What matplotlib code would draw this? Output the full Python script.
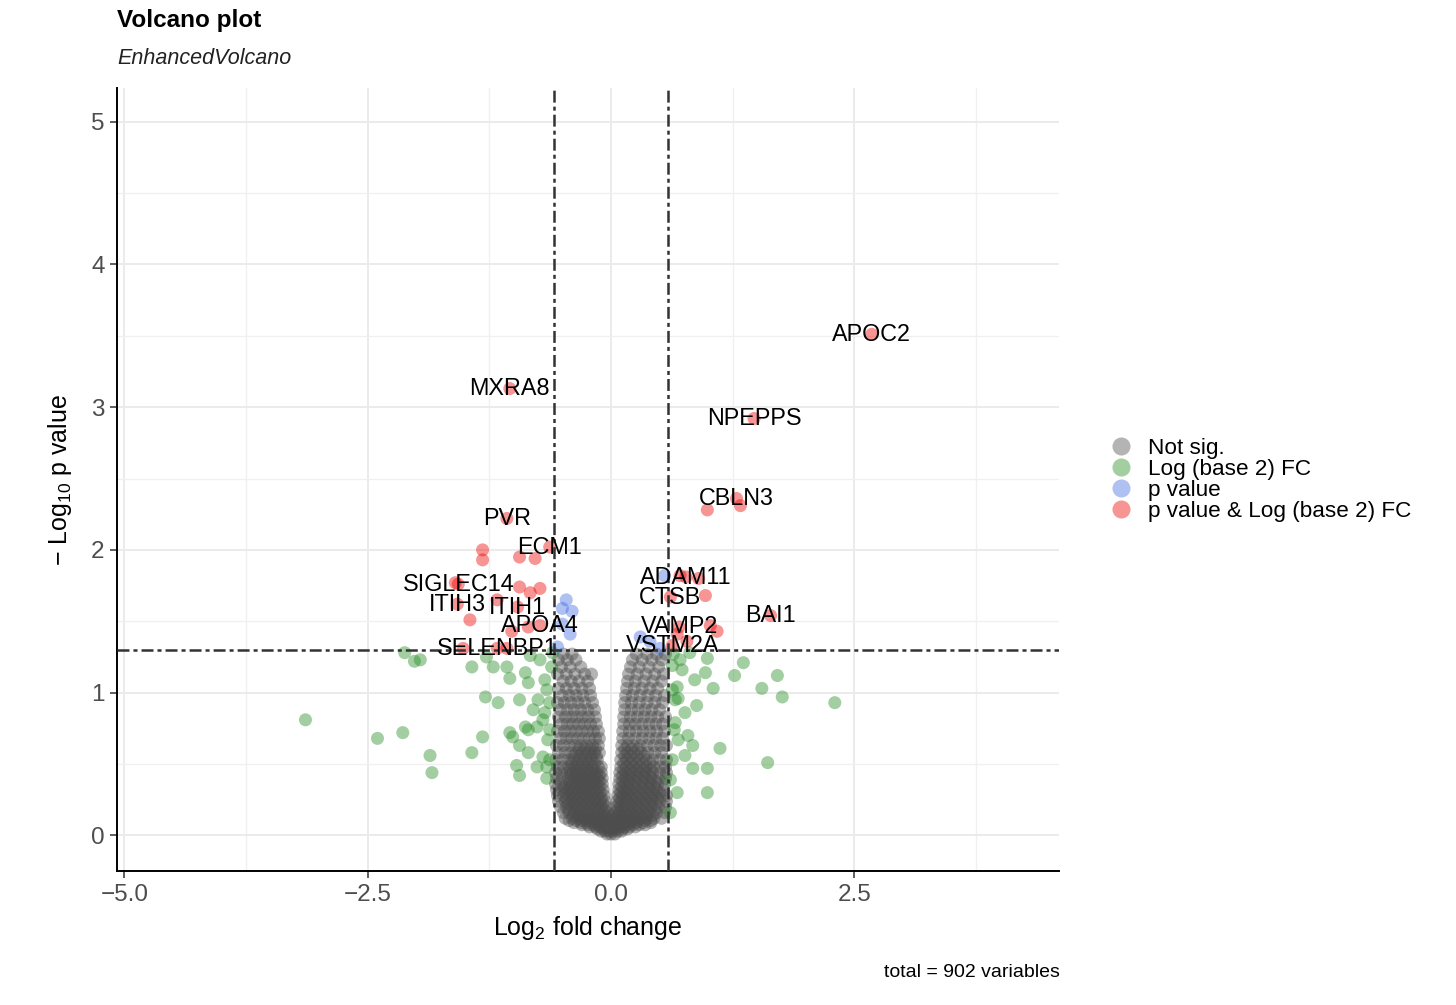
import matplotlib
matplotlib.use("Agg")
import matplotlib.pyplot as plt
from matplotlib.lines import Line2D
from matplotlib.ticker import MultipleLocator

plt.rcParams['font.family'] = ['Liberation Sans', 'DejaVu Sans']
plt.rcParams['mathtext.fontset'] = 'custom'
plt.rcParams['mathtext.rm'] = 'Liberation Sans'
plt.rcParams['mathtext.default'] = 'regular'
plt.rcParams['lines.scale_dashes'] = False

# ---------------- data ----------------
# Not significant (grey) points, typed row by row (y level, x values)
grey_row_y = [0.01, 0.03, 0.06, 0.09, 0.12, 0.16, 0.20, 0.24, 0.28, 0.32,
              0.36, 0.40, 0.44, 0.48, 0.53, 0.58, 0.63, 0.68, 0.73, 0.78,
              0.83, 0.88, 0.93, 0.98, 1.03, 1.08, 1.13, 1.18, 1.23, 1.27]
grey_row_x = [
    [-0.04, 0.0, 0.04],
    [-0.10, -0.06, -0.02, 0.02, 0.07, 0.11],
    [-0.22, -0.16, -0.11, -0.06, -0.01, 0.04, 0.09, 0.14, 0.19, 0.25],
    [-0.38, -0.31, -0.25, -0.19, -0.13, -0.08, -0.03, 0.03, 0.08, 0.14, 0.20, 0.26, 0.33, 0.41],
    [-0.47, -0.40, -0.34, -0.28, -0.22, -0.16, -0.11, -0.05, 0.01, 0.06, 0.12, 0.18, 0.24, 0.31, 0.37, 0.44, 0.52],
    [-0.49, -0.43, -0.37, -0.31, -0.25, -0.19, -0.13, -0.08, -0.03, 0.04, 0.09, 0.15, 0.21, 0.27, 0.33, 0.40, 0.47, 0.55],
    [-0.52, -0.46, -0.40, -0.34, -0.28, -0.22, -0.16, -0.10, -0.05, 0.05, 0.10, 0.16, 0.22, 0.28, 0.35, 0.42, 0.49, 0.56],
    [-0.54, -0.47, -0.41, -0.35, -0.29, -0.23, -0.17, -0.11, -0.06, 0.06, 0.11, 0.17, 0.23, 0.30, 0.36, 0.43, 0.50, 0.57],
    [-0.55, -0.49, -0.43, -0.37, -0.31, -0.25, -0.19, -0.13, -0.07, 0.07, 0.12, 0.18, 0.24, 0.31, 0.38, 0.45, 0.52, 0.57],
    [-0.56, -0.50, -0.44, -0.38, -0.32, -0.26, -0.20, -0.14, -0.08, 0.08, 0.13, 0.19, 0.26, 0.33, 0.40, 0.47, 0.54],
    [-0.57, -0.51, -0.45, -0.39, -0.33, -0.27, -0.21, -0.15, -0.09, 0.08, 0.14, 0.20, 0.27, 0.34, 0.41, 0.48, 0.55],
    [-0.56, -0.50, -0.44, -0.38, -0.32, -0.26, -0.20, -0.14, -0.09, 0.09, 0.15, 0.21, 0.28, 0.35, 0.42, 0.49, 0.56],
    [-0.57, -0.51, -0.45, -0.39, -0.33, -0.27, -0.21, -0.15, -0.10, 0.09, 0.15, 0.22, 0.29, 0.36, 0.43, 0.50, 0.57],
    [-0.55, -0.49, -0.43, -0.37, -0.31, -0.25, -0.19, -0.13, -0.10, 0.10, 0.16, 0.23, 0.30, 0.37, 0.44, 0.51, 0.56],
    [-0.57, -0.50, -0.44, -0.38, -0.32, -0.26, -0.20, -0.14, 0.10, 0.16, 0.22, 0.29, 0.36, 0.43, 0.50, 0.57],
    [-0.54, -0.47, -0.41, -0.35, -0.29, -0.23, -0.17, -0.12, 0.11, 0.17, 0.24, 0.31, 0.38, 0.45, 0.52],
    [-0.56, -0.49, -0.43, -0.37, -0.31, -0.25, -0.19, -0.13, 0.11, 0.17, 0.23, 0.30, 0.37, 0.44, 0.51, 0.57],
    [-0.52, -0.46, -0.40, -0.34, -0.28, -0.22, -0.16, -0.12, 0.12, 0.18, 0.25, 0.32, 0.39, 0.46, 0.53],
    [-0.55, -0.48, -0.42, -0.36, -0.30, -0.24, -0.18, -0.13, 0.12, 0.19, 0.26, 0.33, 0.40, 0.47, 0.55],
    [-0.51, -0.45, -0.39, -0.33, -0.27, -0.21, -0.15, 0.13, 0.19, 0.25, 0.32, 0.39, 0.46, 0.53],
    [-0.54, -0.47, -0.41, -0.35, -0.29, -0.23, -0.16, 0.13, 0.20, 0.27, 0.34, 0.41, 0.48, 0.56],
    [-0.52, -0.45, -0.38, -0.31, -0.24, -0.17, 0.14, 0.21, 0.28, 0.35, 0.42, 0.50],
    [-0.55, -0.48, -0.41, -0.34, -0.27, -0.19, 0.14, 0.21, 0.29, 0.37, 0.45, 0.53],
    [-0.50, -0.43, -0.36, -0.29, -0.21, 0.15, 0.22, 0.30, 0.38, 0.46, 0.55],
    [-0.54, -0.46, -0.38, -0.30, -0.22, 0.16, 0.24, 0.32, 0.40, 0.48],
    [-0.49, -0.41, -0.33, -0.24, 0.17, 0.25, 0.34, 0.43, 0.52],
    [-0.55, -0.46, -0.37, -0.27, -0.20, 0.18, 0.27, 0.36, 0.45, 0.54],
    [-0.51, -0.42, -0.31, 0.20, 0.29, 0.39, 0.49],
    [-0.54, -0.45, -0.36, 0.22, 0.32, 0.42, 0.52],
    [-0.49, -0.40, 0.26, 0.37, 0.47, 0.56],
]
# second, interleaved set of grey rows (the dense lower part of the V)
grey_row_y2 = [0.045, 0.075, 0.105, 0.14, 0.18, 0.22, 0.26, 0.30, 0.34, 0.38,
               0.42, 0.46, 0.505, 0.555, 0.605]
grey_row_x2 = [
    [-0.14, -0.08, -0.03, 0.02, 0.06, 0.12, 0.17],
    [-0.30, -0.24, -0.18, -0.13, -0.08, -0.03, 0.02, 0.07, 0.12, 0.17, 0.23, 0.29, 0.35],
    [-0.43, -0.36, -0.30, -0.24, -0.18, -0.13, -0.08, -0.02, 0.04, 0.10, 0.16, 0.22, 0.28, 0.35, 0.41],
    [-0.39, -0.33, -0.27, -0.21, -0.15, -0.10, -0.05, 0.02, 0.07, 0.12, 0.18, 0.24, 0.30, 0.36, 0.43],
    [-0.44, -0.37, -0.31, -0.25, -0.19, -0.13, -0.07, 0.07, 0.13, 0.19, 0.25, 0.31, 0.38, 0.45],
    [-0.44, -0.38, -0.32, -0.26, -0.20, -0.14, -0.08, 0.08, 0.14, 0.20, 0.26, 0.33, 0.39, 0.46],
    [-0.46, -0.40, -0.34, -0.28, -0.22, -0.16, -0.10, 0.09, 0.15, 0.21, 0.27, 0.34, 0.41, 0.48],
    [-0.47, -0.41, -0.35, -0.29, -0.23, -0.17, -0.11, 0.10, 0.16, 0.22, 0.29, 0.36, 0.43, 0.50],
    [-0.48, -0.42, -0.36, -0.30, -0.24, -0.18, -0.12, 0.11, 0.17, 0.24, 0.31, 0.38, 0.45],
    [-0.42, -0.36, -0.30, -0.24, -0.18, -0.12, 0.12, 0.18, 0.25, 0.32, 0.39, 0.46],
    [-0.41, -0.35, -0.29, -0.23, -0.17, -0.12, 0.12, 0.19, 0.26, 0.33, 0.40],
    [-0.42, -0.36, -0.30, -0.24, -0.18, 0.13, 0.20, 0.27, 0.34, 0.41],
    [-0.41, -0.35, -0.29, -0.23, -0.17, 0.13, 0.20, 0.26, 0.33, 0.40],
    [-0.38, -0.32, -0.26, -0.20, -0.15, 0.14, 0.20, 0.27, 0.34],
    [-0.33, -0.27, -0.21, -0.16, 0.14, 0.21, 0.28],
]

# Log2 FC only (green)
green_x = [-3.14, -2.40, -2.14, -2.12, -1.96, -1.86, -1.84, -1.43, -1.32, -1.43,
           -1.29, -1.16, -1.21, -1.07, -1.04, -0.94, -0.88, -0.85, -0.80, -0.88,
           -1.04, -1.01, -0.85, -0.76, -0.70, -0.66, -0.63, -0.85, -0.97, -0.94,
           -0.76, -0.66, -0.70, -0.66, -0.61, -0.60, -1.28, -0.83, -0.73, -0.68,
           -0.65, -0.63, -0.75, -0.68, -0.63, -0.94, -2.02,
           0.99, 0.97, 1.05, 1.36, 1.27, 1.71, 1.55, 1.76, 2.30, 1.12,
           1.61, 0.99, 0.99, 0.84, 0.84, 0.79, 0.69, 0.68, 0.73, 0.88,
           0.66, 0.63, 0.68, 0.61, 0.71, 0.61, 0.81, 0.66, 0.63, 0.76,
           0.69, 0.63, 0.86, 0.76, 0.65, 0.64]
green_y = [0.81, 0.68, 0.72, 1.28, 1.23, 0.56, 0.44, 0.58, 0.69, 1.18,
           0.97, 0.93, 1.18, 1.18, 1.10, 0.95, 1.14, 1.07, 0.88, 0.76,
           0.72, 0.69, 0.74, 0.76, 0.81, 1.02, 0.93, 0.58, 0.49, 0.42,
           0.48, 0.48, 0.55, 0.40, 1.18, 1.28, 1.25, 1.26, 1.23, 1.09,
           0.67, 0.53, 0.95, 0.86, 0.74, 0.63, 1.22,
           1.24, 1.14, 1.03, 1.21, 1.12, 1.12, 1.03, 0.97, 0.93, 0.61,
           0.51, 0.47, 0.30, 0.47, 0.63, 0.70, 0.96, 1.04, 1.16, 0.91,
           0.79, 0.53, 0.30, 0.16, 1.23, 0.39, 1.28, 0.95, 1.02, 0.86,
           0.67, 1.19, 1.09, 0.56, 0.74, 1.27]

# p value only (blue)
blue_x = [-0.50, -0.40, -0.50, -0.42, -0.55, -0.46, 0.30, 0.50, 0.55, 0.40]
blue_y = [1.59, 1.57, 1.48, 1.41, 1.32, 1.65, 1.39, 1.31, 1.82, 1.36]

# p value & Log2 FC (red), unlabelled
red_x = [-1.32, -1.32, -0.94, -0.78, -0.94, -0.83, -0.73, -1.17, -1.45, -1.02,
         -0.85, -1.60, -1.52, -1.07, 0.71, 0.90, 0.97, 1.02, 1.09, 0.78,
         0.68, 1.33, 0.99]
red_y = [2.00, 1.93, 1.95, 1.94, 1.74, 1.70, 1.73, 1.65, 1.51, 1.43,
         1.46, 1.77, 1.31, 1.31, 1.82, 1.80, 1.68, 1.47, 1.43, 1.36,
         1.41, 2.31, 2.28]

# labelled genes (red)
lab_genes = ['APOC2', 'NPEPPS', 'CBLN3', 'MXRA8', 'PVR', 'ECM1', 'SIGLEC14',
             'ITIH3', 'ITIH1', 'APOA4', 'SELENBP1', 'ADAM11', 'CTSB', 'VAMP2',
             'VSTM2A', 'BAI1']
lab_x = [2.68, 1.47, 1.29, -1.04, -1.07, -0.63, -1.57, -1.58, -0.96, -0.73,
         -1.17, 0.77, 0.61, 0.70, 0.63, 1.64]
lab_y = [3.51, 2.92, 2.36, 3.13, 2.22, 2.02, 1.76, 1.62, 1.60, 1.47,
         1.31, 1.81, 1.67, 1.46, 1.33, 1.54]

fc_cut = 0.585
p_cut = 1.30

legend_labels = ['Not sig.', 'Log (base 2) FC', 'p value', 'p value & Log (base 2) FC']
colors = ['#4D4D4D', '#228B22', '#4169E1', '#EE0000']

# ---------------- plot ----------------
fig = plt.figure(figsize=(14.56, 10.05), dpi=100)
ax = fig.add_axes([117/1456, 1-871/1005, (1059-117)/1456, (871-88)/1005])

gx = [x for row in grey_row_x for x in row] + [x for row in grey_row_x2 for x in row]
gy = ([y for y, row in zip(grey_row_y, grey_row_x) for _ in row] +
      [y for y, row in zip(grey_row_y2, grey_row_x2) for _ in row])

ms = 88
ax.scatter(gx, gy, s=ms, c=colors[0], alpha=0.42, edgecolors='none', zorder=3)
ax.scatter(green_x, green_y, s=ms, c=colors[1], alpha=0.42, edgecolors='none', zorder=3)
ax.scatter(blue_x, blue_y, s=ms, c=colors[2], alpha=0.42, edgecolors='none', zorder=3)
ax.scatter(red_x + lab_x, red_y + lab_y, s=ms, c=colors[3], alpha=0.42, edgecolors='none', zorder=3)

dash = (0, (8.6, 2.9, 2.9, 2.9))
for v in (-fc_cut, fc_cut):
    ax.axvline(v, color='#333333', lw=1.8, linestyle=dash, zorder=4)
ax.axhline(p_cut, color='#333333', lw=1.8, linestyle=dash, zorder=4)

for g, x, y in zip(lab_genes, lab_x, lab_y):
    ax.text(x, y, g, ha='center', va='center', fontsize=16.8, color='black', zorder=5)

ax.set_xlim(-5.077, 4.604)
ax.set_ylim(-0.249, 5.235)
ax.xaxis.set_major_locator(MultipleLocator(2.5))
ax.xaxis.set_minor_locator(MultipleLocator(1.25))
ax.yaxis.set_major_locator(MultipleLocator(1))
ax.yaxis.set_minor_locator(MultipleLocator(0.5))
ax.grid(True, which='major', color='#EBEBEB', lw=1.4, zorder=0)
ax.grid(True, which='minor', color='#F0F0F0', lw=1.0, zorder=0)
ax.set_axisbelow(True)

for s in ('top', 'right'):
    ax.spines[s].set_visible(False)
for s in ('left', 'bottom'):
    ax.spines[s].set_linewidth(1.4)
    ax.spines[s].set_color('black')

ax.tick_params(which='major', direction='out', length=5, width=1.1, color='#333333',
               labelsize=17.5, labelcolor='#4D4D4D', pad=4)
ax.tick_params(which='minor', length=0)

ax.set_xlabel('Log$_2$ fold change', fontsize=18, labelpad=6)
ax.set_ylabel('\u2212 Log$_{10}$ p value', fontsize=18, labelpad=12)

fig.text(117/1456, 1-20/1005, 'Volcano plot', fontsize=17.5, fontweight='bold',
         ha='left', va='center')
fig.text(117/1456, 1-59/1005, 'EnhancedVolcano', fontsize=15.5, fontstyle='italic',
         ha='left', va='center', color='#222222')
fig.text(1060/1456, 1-972/1005, 'total = 902 variables', fontsize=14,
         ha='right', va='center')

handles = [Line2D([0], [0], marker='o', linestyle='none', markersize=13,
                  markerfacecolor=c, markeredgecolor='none', alpha=0.42) for c in colors]
fig.legend(handles, legend_labels, loc='center left',
           bbox_to_anchor=(1110/1456, 1-480/1005), frameon=False, fontsize=16.2,
           labelspacing=0.0, handlelength=1.0, handletextpad=0.7,
           borderpad=0, borderaxespad=0)

fig.savefig('out.png', dpi=100)
